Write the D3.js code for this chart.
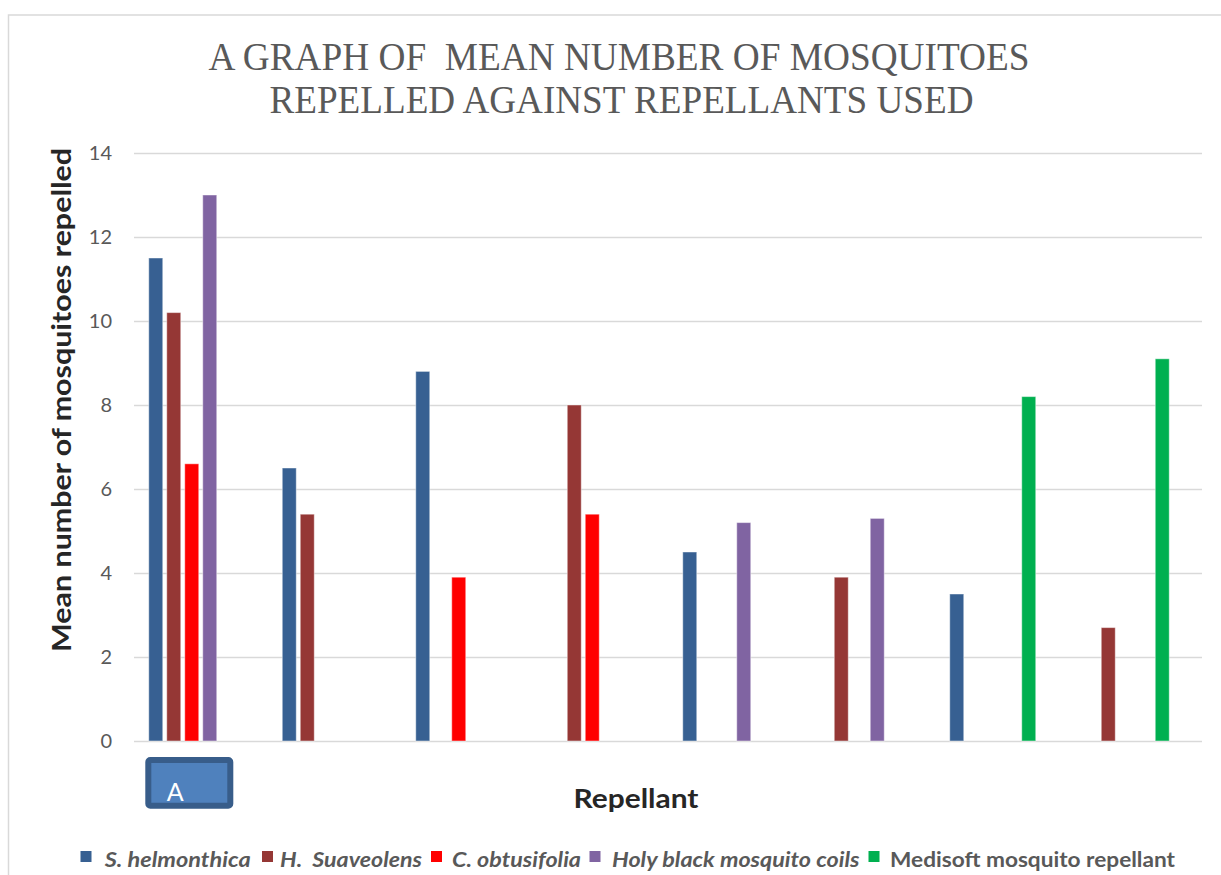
<!DOCTYPE html>
<html>
<head>
<meta charset="utf-8">
<script src="https://cdn.jsdelivr.net/npm/d3@7"></script>
<style>
  html, body { margin: 0; padding: 0; background: #fff; }
  svg { display: block; }
  text { white-space: pre; }
</style>
</head>
<body>
<script>
// ---- data ----
const categories = ["A", "B", "C", "D", "E", "F", "G", "H"];
const seriesNames = ["S. helmonthica", "H.  Suaveolens", "C. obtusifolia", "Holy black mosquito coils", "Medisoft mosquito repellant"];
const seriesItalic = [true, true, true, true, false];
const seriesColors = ["#376092", "#953735", "#FF0000", "#8064A2", "#00B050"];
const sHelmonthica = [11.5, 6.5, 8.8, null, 4.5, null, 3.5, null];
const hSuaveolens  = [10.2, 5.4, null, 8.0, null, 3.9, null, 2.7];
const cObtusifolia = [6.6, null, 3.9, 5.4, null, null, null, null];
const holyBlack    = [13.0, null, null, null, 5.2, 5.3, null, null];
const medisoft     = [null, null, null, null, null, null, 8.2, 9.1];
const yTicks = [0, 2, 4, 6, 8, 10, 12, 14];
const titleLines = ["A GRAPH OF  MEAN NUMBER OF MOSQUITOES", "REPELLED AGAINST REPELLANTS USED"];
const yTitle = "Mean number of mosquitoes repelled";
const xTitle = "Repellant";
const boxLabel = "A";

const seriesValues = [sHelmonthica, hSuaveolens, cObtusifolia, holyBlack, medisoft];

// ---- layout ----
const W = 1221, H = 875;
const svg = d3.select("body").append("svg").attr("width", W).attr("height", H);

// outer chart border
svg.append("rect")
  .attr("x", 8.5).attr("y", 15).attr("width", W + 20).attr("height", H + 20)
  .attr("fill", "#fff").attr("stroke", "#d9d9d9").attr("stroke-width", 1.5);

const x = d3.scaleBand().domain(categories).range([134, 1202]).padding(0);
const slots = d3.range(seriesNames.length + 1);
const xi = d3.scaleBand().domain(slots).range([0, x.bandwidth()])
  .paddingInner(0.222).paddingOuter(0.82);
const y = d3.scaleLinear().domain([0, 14]).range([741, 153]);

// gridlines + y tick labels
const yAxis = d3.axisLeft(y).tickValues(yTicks).tickSize(-(1202 - 134)).tickPadding(22).tickFormat(d3.format("d"));
const gy = svg.append("g").attr("transform", "translate(134,0)").call(yAxis);
gy.select(".domain").remove();
gy.selectAll(".tick line").attr("stroke", "#d9d9d9").attr("stroke-width", 1.4);
gy.selectAll(".tick text")
  .attr("fill", "#595959")
  .style("font-family", "Lato, 'Open Sans', sans-serif")
  .style("font-size", "20px");

// bars
const barData = [];
seriesValues.forEach((vals, si) => {
  vals.forEach((v, ci) => {
    if (v !== null) barData.push({ s: si, c: categories[ci], v: v });
  });
});
svg.append("g").selectAll("rect").data(barData).enter().append("rect")
  .attr("x", d => x(d.c) + xi(d.s))
  .attr("width", xi.bandwidth())
  .attr("y", d => y(d.v))
  .attr("height", d => y(0) - y(d.v))
  .attr("fill", d => seriesColors[d.s])
  .attr("stroke", "#ffffff").attr("stroke-opacity", 0.45).attr("stroke-width", 1);

// title
const title = svg.append("g");
title.selectAll("text").data(titleLines).enter().append("text")
  .attr("x", (d, i) => i === 0 ? 208.5 : 269.5)
  .attr("y", (d, i) => i === 0 ? 69.5 : 113.3)
  .attr("textLength", (d, i) => i === 0 ? 821 : 704)
  .attr("lengthAdjust", "spacingAndGlyphs")
  .attr("fill", "#595959")
  .style("font-family", "'Liberation Serif', 'Times New Roman', serif")
  .style("font-size", "39px")
  .text(d => d);

// y axis title
svg.append("text")
  .attr("transform", "translate(71,400) rotate(-90)")
  .attr("text-anchor", "middle")
  .attr("textLength", 504)
  .attr("lengthAdjust", "spacingAndGlyphs")
  .attr("fill", "#262626")
  .style("font-family", "Lato, 'Open Sans', sans-serif")
  .style("font-weight", "bold")
  .style("font-size", "26px")
  .text(yTitle);

// x axis title
svg.append("text")
  .attr("x", 573.5).attr("y", 807.5)
  .attr("textLength", 125)
  .attr("lengthAdjust", "spacingAndGlyphs")
  .attr("fill", "#262626")
  .style("font-family", "Lato, 'Open Sans', sans-serif")
  .style("font-weight", "bold")
  .style("font-size", "26px")
  .text(xTitle);

// "A" box label
const bx = x(categories[0]) + 14.3;
svg.append("rect")
  .attr("x", bx).attr("y", 760).attr("width", 82).attr("height", 45.7)
  .attr("rx", 2).attr("ry", 2)
  .attr("fill", "#4F81BD").attr("stroke", "#385D8A").attr("stroke-width", 6);
svg.append("text")
  .attr("x", bx + 27).attr("y", 801)
  .attr("text-anchor", "middle")
  .attr("fill", "#ffffff")
  .style("font-family", "Lato, 'Open Sans', sans-serif")
  .style("font-size", "25px")
  .text(boxLabel);

// legend
const legendItems = [
  { sq: 80.5, tx: 104.7, tw: 146 },
  { sq: 262, tx: 280, tw: 142 },
  { sq: 431, tx: 452, tw: 129 },
  { sq: 589.5, tx: 612, tw: 247.5 },
  { sq: 868.5, tx: 890, tw: 285 }
];
const lg = svg.append("g").selectAll("g").data(seriesNames).enter().append("g");
lg.append("rect")
  .attr("x", (d, i) => legendItems[i].sq).attr("y", 851)
  .attr("width", 11).attr("height", 11)
  .attr("fill", (d, i) => seriesColors[i]);
lg.append("text")
  .attr("x", (d, i) => legendItems[i].tx).attr("y", 866.5)
  .attr("textLength", (d, i) => legendItems[i].tw)
  .attr("lengthAdjust", "spacingAndGlyphs")
  .attr("fill", "#595959")
  .style("font-family", "Lato, 'Open Sans', sans-serif")
  .style("font-weight", "bold")
  .style("font-style", (d, i) => seriesItalic[i] ? "italic" : "normal")
  .style("font-size", "21px")
  .text(d => d);
</script>
</body>
</html>
